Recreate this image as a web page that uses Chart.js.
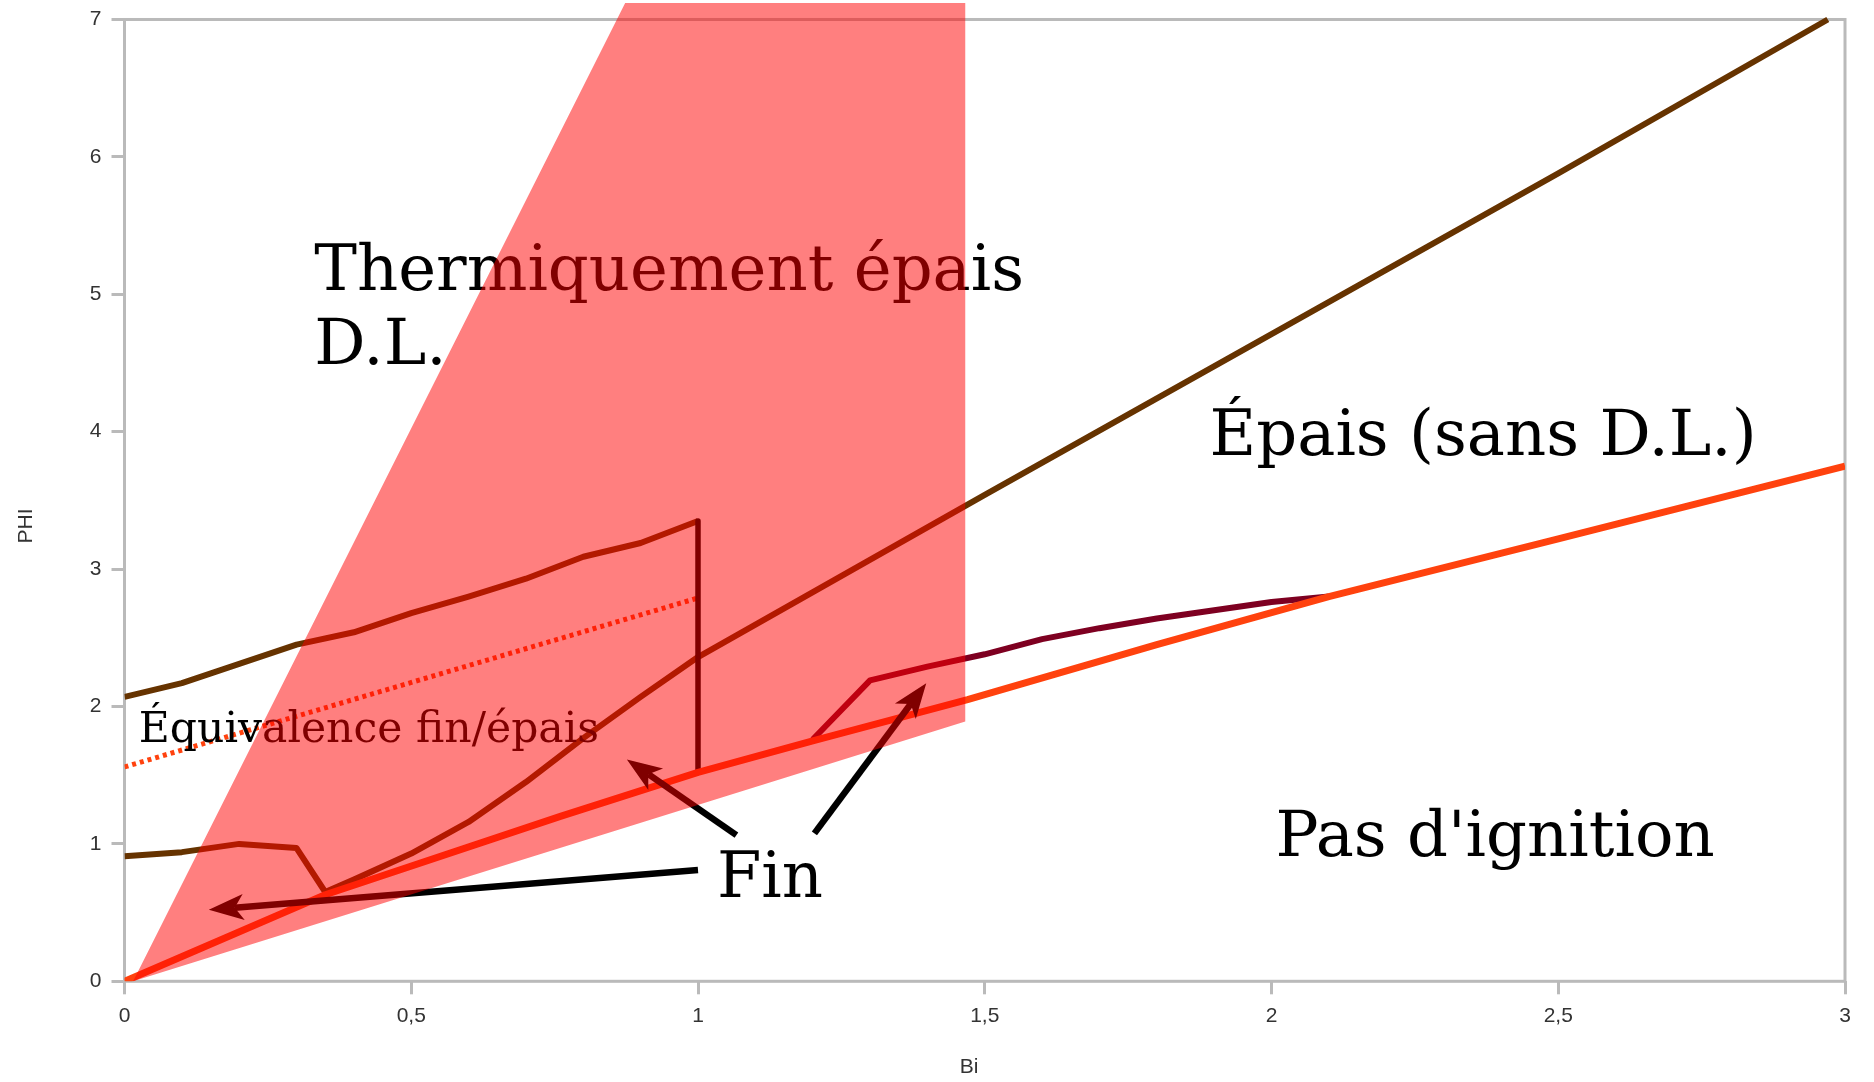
<!DOCTYPE html>
<html lang="fr">
<head>
<meta charset="utf-8">
<title>Régimes d'ignition – Bi / PHI</title>
<script src="https://cdn.jsdelivr.net/npm/chart.js@4.4.1/dist/chart.umd.min.js"></script>
<style>
  html, body { margin: 0; padding: 0; background: #ffffff; }
  #wrap { width: 1874px; height: 1082px; }
</style>
</head>
<body>
<div id="wrap"><canvas id="chart" width="1874" height="1082"></canvas></div>
<script>
// ---- Axis ticks ----
const biTicks = [0, 0.5, 1, 1.5, 2, 2.5, 3];
const biTickLabels = ['0', '0,5', '1', '1,5', '2', '2,5', '3'];
const phiTicks = [0, 1, 2, 3, 4, 5, 6, 7];
const phiTickLabels = ['0', '1', '2', '3', '4', '5', '6', '7'];

// ---- Series (Bi -> PHI) ----
// lower "fin" curve, continued by the thick-regime boundary line
const lowerBi  = [0, 0.1, 0.2, 0.3, 0.35, 0.4, 0.5, 0.6, 0.7, 0.8, 0.9, 1.0, 1.5, 2.0, 2.5, 2.97];
const lowerPhi = [0.91, 0.94, 1.0, 0.97, 0.65, 0.74, 0.93, 1.16, 1.45, 1.77, 2.07, 2.36, 3.54, 4.71, 5.88, 7.0];

// upper "fin" curve
const upperBi  = [0, 0.1, 0.2, 0.3, 0.4, 0.5, 0.6, 0.7, 0.8, 0.9, 1.0];
const upperPhi = [2.07, 2.17, 2.31, 2.45, 2.54, 2.68, 2.80, 2.93, 3.09, 3.19, 3.35];

// drop at Bi = 1
const cutBi  = [1, 1];
const cutPhi = [3.35, 1.52];

// ignition limit
const ignitionBi  = [0, 0.35, 0.76, 1.0, 1.2, 1.47, 1.8, 2.1, 2.5, 3.0];
const ignitionPhi = [0, 0.63, 1.20, 1.52, 1.75, 2.05, 2.45, 2.80, 3.22, 3.75];

// thick (no boundary layer) curve
const thickBi  = [1.2, 1.3, 1.4, 1.5, 1.6, 1.7, 1.8, 1.9, 2.0, 2.1];
const thickPhi = [1.76, 2.19, 2.29, 2.38, 2.49, 2.57, 2.64, 2.70, 2.76, 2.80];

// thin / thick equivalence
const equivBi  = [0, 1];
const equivPhi = [1.56, 2.79];

// thermally thick region with boundary layer (closed shape)
const zoneBi  = [0.015, 0.873, 1.466, 1.466];
const zonePhi = [0, 7.12, 7.12, 1.89];

// ---- Annotations (data coordinates) ----
const regionLabels = [
  { lines: ['Thermiquement épais', 'D.L.'], bi: 0.331, phi: 5.03, size: 64 },
  { lines: ['Épais (sans D.L.)'], bi: 1.892, phi: 3.83, size: 64 },
  { lines: ["Pas d'ignition"], bi: 2.007, phi: 0.913, size: 64 },
  { lines: ['Fin'], bi: 1.033, phi: 0.61, size: 64 },
  { lines: ['Équivalence fin/épais'], bi: 0.025, phi: 1.74, size: 42.5 }
];
const arrows = [
  { from: [1.0, 0.81], to: [0.147, 0.52] },
  { from: [1.067, 1.064], to: [0.876, 1.615] },
  { from: [1.203, 1.077], to: [1.398, 2.17] }
];

const toPoints = (xs, ys) => xs.map((x, i) => ({ x: x, y: ys[i] }));

const AXIS_GRAY = '#bababa';
const TICK_FONT = { family: '"Liberation Sans", Arial, sans-serif', size: 21 };
const SERIF = '"DejaVu Serif", serif';

function drawArrow(ctx, x1, y1, x2, y2) {
  const ang = Math.atan2(y2 - y1, x2 - x1);
  const c = Math.cos(ang), s = Math.sin(ang);
  const len = 35, half = 13, notch = 26;
  ctx.save();
  ctx.strokeStyle = '#000';
  ctx.fillStyle = '#000';
  ctx.lineWidth = 6.5;
  ctx.lineCap = 'butt';
  ctx.beginPath();
  ctx.moveTo(x1, y1);
  ctx.lineTo(x2 - notch * c, y2 - notch * s);
  ctx.stroke();
  ctx.beginPath();
  ctx.moveTo(x2, y2);
  ctx.lineTo(x2 - len * c - half * s, y2 - len * s + half * c);
  ctx.lineTo(x2 - notch * c, y2 - notch * s);
  ctx.lineTo(x2 - len * c + half * s, y2 - len * s - half * c);
  ctx.closePath();
  ctx.fill();
  ctx.restore();
}

// frame + axis titles, under the data
const framePlugin = {
  id: 'frame',
  beforeDatasetsDraw(chart) {
    const { ctx, scales: { x, y } } = chart;
    const l = x.getPixelForValue(0), r = x.getPixelForValue(3);
    const t = y.getPixelForValue(7), b = y.getPixelForValue(0);
    ctx.save();
    ctx.strokeStyle = AXIS_GRAY;
    ctx.lineWidth = 3;
    ctx.strokeRect(l, t, r - l, b - t);
    ctx.fillStyle = '#333';
    ctx.font = '21px "Liberation Sans", Arial, sans-serif';
    ctx.textAlign = 'center';
    ctx.textBaseline = 'middle';
    ctx.fillText('Bi', 969, 1067);
    ctx.translate(26, 526);
    ctx.rotate(-Math.PI / 2);
    ctx.fillText('PHI', 0, 0);
    ctx.restore();
  }
};

// region names and arrows, drawn after the curves and before the shaded zone
const notesPlugin = {
  id: 'notes',
  afterDatasetDraw(chart, args) {
    if (args.index !== 1) return;
    const { ctx, scales: { x, y } } = chart;
    ctx.save();
    arrows.forEach(a => {
      drawArrow(ctx, x.getPixelForValue(a.from[0]), y.getPixelForValue(a.from[1]),
                     x.getPixelForValue(a.to[0]), y.getPixelForValue(a.to[1]));
    });
    ctx.fillStyle = '#000';
    ctx.textAlign = 'left';
    ctx.textBaseline = 'alphabetic';
    regionLabels.forEach(lb => {
      ctx.font = lb.size + 'px ' + SERIF;
      const px = x.getPixelForValue(lb.bi);
      const py = y.getPixelForValue(lb.phi);
      lb.lines.forEach((t, i) => ctx.fillText(t, px, py + i * lb.size * 1.16));
    });
    ctx.restore();
  }
};

const lineDefaults = { pointRadius: 0, pointHoverRadius: 0, tension: 0, fill: false, borderCapStyle: 'butt', borderJoinStyle: 'round' };

new Chart(document.getElementById('chart'), {
  type: 'line',
  data: {
    datasets: [
      Object.assign({}, lineDefaults, {
        label: 'Thermiquement épais D.L.', data: toPoints(zoneBi, zonePhi),
        borderWidth: 0, borderColor: 'rgba(0,0,0,0)', backgroundColor: 'rgba(255,0,0,0.5)',
        fill: 'shape', order: 0
      }),
      Object.assign({}, lineDefaults, {
        label: "Pas d'ignition", data: toPoints(ignitionBi, ignitionPhi),
        borderColor: '#ff420e', borderWidth: 7, order: 1
      }),
      Object.assign({}, lineDefaults, {
        label: 'Bi = 1', data: toPoints(cutBi, cutPhi),
        borderColor: '#000000', borderWidth: 5.5, order: 2
      }),
      Object.assign({}, lineDefaults, {
        label: 'Fin (haut)', data: toPoints(upperBi, upperPhi),
        borderColor: '#663300', borderWidth: 6, order: 3
      }),
      Object.assign({}, lineDefaults, {
        label: 'Fin (bas)', data: toPoints(lowerBi, lowerPhi),
        borderColor: '#663300', borderWidth: 6, order: 4
      }),
      Object.assign({}, lineDefaults, {
        label: 'Épais', data: toPoints(thickBi, thickPhi),
        borderColor: '#7e0021', borderWidth: 6, order: 5
      }),
      Object.assign({}, lineDefaults, {
        label: 'Équivalence fin/épais', data: toPoints(equivBi, equivPhi),
        borderColor: '#ff420e', borderWidth: 5, borderDash: [4, 4], order: 6
      })
    ]
  },
  options: {
    responsive: false,
    animation: false,
    events: [],
    layout: { padding: { top: 3, right: 29, left: 0, bottom: 0 } },
    plugins: { legend: { display: false }, tooltip: { enabled: false }, title: { display: false } },
    scales: {
      x: {
        type: 'linear', min: 0, max: 3,
        afterBuildTicks: s => { s.ticks = biTicks.map(v => ({ value: v })); },
        afterFit: s => { s.height = 100.7; s.paddingLeft = 0; s.paddingRight = 0; },
        ticks: { callback: (v, i) => biTickLabels[i], font: TICK_FONT, color: '#333', padding: 9, maxRotation: 0, autoSkip: false },
        grid: { drawOnChartArea: false, drawTicks: true, tickLength: 13, tickColor: AXIS_GRAY, tickWidth: 3, color: AXIS_GRAY, lineWidth: 3 },
        border: { display: false },
        title: { display: false }
      },
      y: {
        type: 'linear', min: 0, max: 7.12,
        afterBuildTicks: s => { s.ticks = phiTicks.map(v => ({ value: v })); },
        afterFit: s => { s.width = 124.5; s.paddingTop = 0; s.paddingBottom = 0; },
        ticks: { callback: (v, i) => phiTickLabels[i], font: TICK_FONT, color: '#333', padding: 10, autoSkip: false },
        grid: { drawOnChartArea: false, drawTicks: true, tickLength: 13, tickColor: AXIS_GRAY, tickWidth: 3, color: AXIS_GRAY, lineWidth: 3 },
        border: { display: false },
        title: { display: false }
      }
    }
  },
  plugins: [framePlugin, notesPlugin]
});
</script>
</body>
</html>
